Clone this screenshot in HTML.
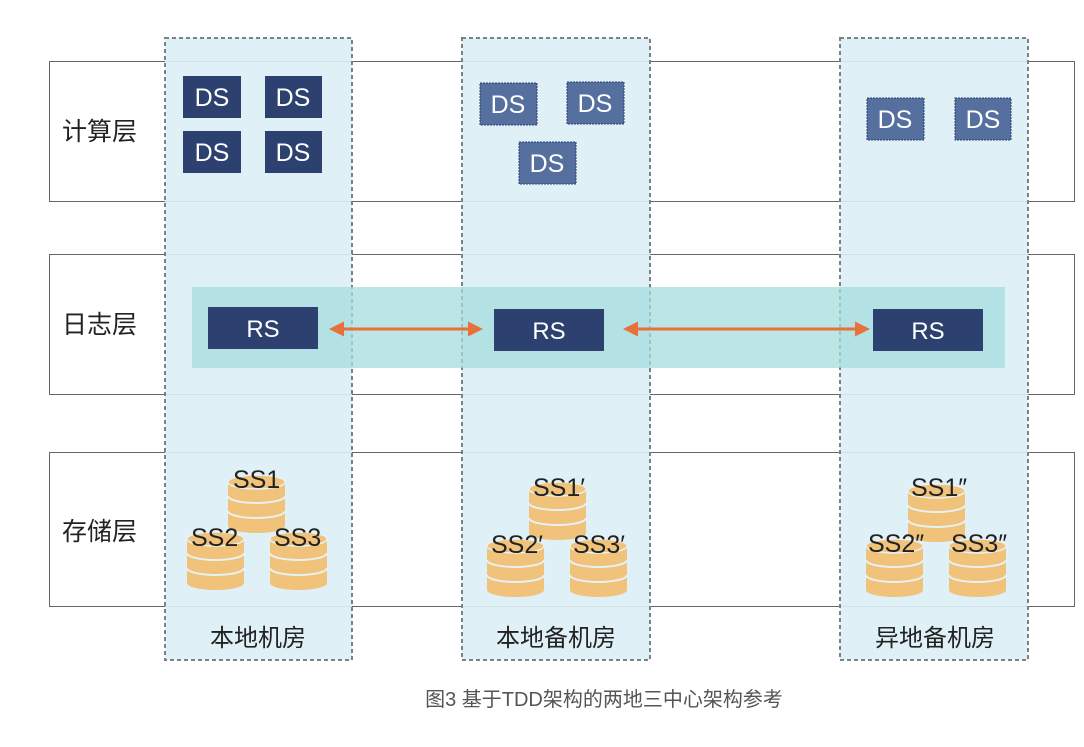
<!DOCTYPE html><html><head><meta charset="utf-8"><style>
body{margin:0;width:1084px;height:742px;background:#fff;overflow:hidden;font-family:"Liberation Sans","Noto Sans CJK SC",sans-serif}
</style></head><body>
<svg width="1084" height="742" xmlns="http://www.w3.org/2000/svg" font-family="Liberation Sans, Noto Sans CJK SC, sans-serif">
<defs>
<g id="cyl">
<path d="M0,6 V50 A28.5,7 0 0 0 57,50 V6 Z" fill="#f0c27a"/>
<path d="M0,20 A28.5,7 0 0 0 57,20 M0,35 A28.5,7 0 0 0 57,35" fill="none" stroke="#e8f2f4" stroke-width="2"/>
<ellipse cx="28.5" cy="6" rx="28.5" ry="7" fill="#f0c27a" stroke="#e8f2f4" stroke-width="1.5"/>
</g>
<marker id="ah" viewBox="0 0 10 10" refX="8" refY="5" markerWidth="5" markerHeight="5" orient="auto-start-reverse"><path d="M0,0 L10,5 L0,10 Z" fill="#e8703a"/></marker>
</defs>
<rect x="49.5" y="61.5" width="1025" height="140" fill="none" stroke="#666" stroke-width="1"/>
<rect x="49.5" y="254.5" width="1025" height="140" fill="none" stroke="#666" stroke-width="1"/>
<rect x="49.5" y="452.5" width="1025" height="154" fill="none" stroke="#666" stroke-width="1"/>
<g fill="#dceef6" fill-opacity="0.9" stroke="#7a8288" stroke-width="2" stroke-dasharray="4,3">
<rect x="165" y="38" width="187" height="622"/>
<rect x="462" y="38" width="188" height="622"/>
<rect x="840" y="38" width="188" height="622"/>
</g>
<rect x="192" y="287" width="813" height="81" fill="#a6dcdc" fill-opacity="0.75"/>
<g fill="#2c4170"><rect x="208" y="307" width="110" height="42"/><rect x="494" y="309" width="110" height="42"/><rect x="873" y="309" width="110" height="42"/></g>
<g fill="#fff" font-size="24" text-anchor="middle"><text x="263" y="337">RS</text><text x="549" y="339">RS</text><text x="928" y="339">RS</text></g>
<g stroke="#e8703a" stroke-width="3" marker-start="url(#ah)" marker-end="url(#ah)"><line x1="332" y1="329" x2="480" y2="329"/><line x1="626" y1="329" x2="867" y2="329"/></g>
<g fill="#2c4170"><rect x="183" y="76" width="58" height="42"/><rect x="265" y="76" width="57" height="42"/><rect x="183" y="131" width="58" height="42"/><rect x="265" y="131" width="57" height="42"/></g>
<g fill="#55709e" stroke="#2c4170" stroke-width="1" stroke-dasharray="2,1"><rect x="480" y="83" width="57" height="42"/><rect x="567" y="82" width="57" height="42"/><rect x="519" y="142" width="57" height="42"/><rect x="867" y="98" width="57" height="42"/><rect x="955" y="98" width="56" height="42"/></g>
<g fill="#fff" font-size="25" text-anchor="middle">
<text x="212" y="106">DS</text><text x="293" y="106">DS</text><text x="212" y="161">DS</text><text x="293" y="161">DS</text>
<text x="508" y="113">DS</text><text x="595" y="112">DS</text><text x="547" y="172">DS</text>
<text x="895" y="128">DS</text><text x="983" y="128">DS</text></g>
<use href="#cyl" x="228" y="476"/><use href="#cyl" x="187" y="533"/><use href="#cyl" x="270" y="533"/>
<use href="#cyl" x="529" y="483"/><use href="#cyl" x="487" y="540"/><use href="#cyl" x="570" y="540"/>
<use href="#cyl" x="908" y="485"/><use href="#cyl" x="866" y="540"/><use href="#cyl" x="949" y="540"/>
<g fill="#222" font-size="25">
<text x="233" y="488">SS1</text><text x="191" y="546">SS2</text><text x="274" y="546">SS3</text>
<text x="533" y="496">SS1′</text><text x="491" y="553">SS2′</text><text x="573" y="553">SS3′</text>
<text x="911" y="496">SS1″</text><text x="868" y="552">SS2″</text><text x="951" y="552">SS3″</text></g>
<g fill="#222" font-size="25"><text x="62" y="140">计算层</text><text x="62" y="333">日志层</text><text x="62" y="540">存储层</text></g>
<g fill="#222" font-size="24" text-anchor="middle"><text x="258" y="646">本地机房</text><text x="556" y="646">本地备机房</text><text x="935" y="646">异地备机房</text></g>
<text x="604" y="706" fill="#555" font-size="20" text-anchor="middle">图3 基于TDD架构的两地三中心架构参考</text>
</svg>
</body></html>
